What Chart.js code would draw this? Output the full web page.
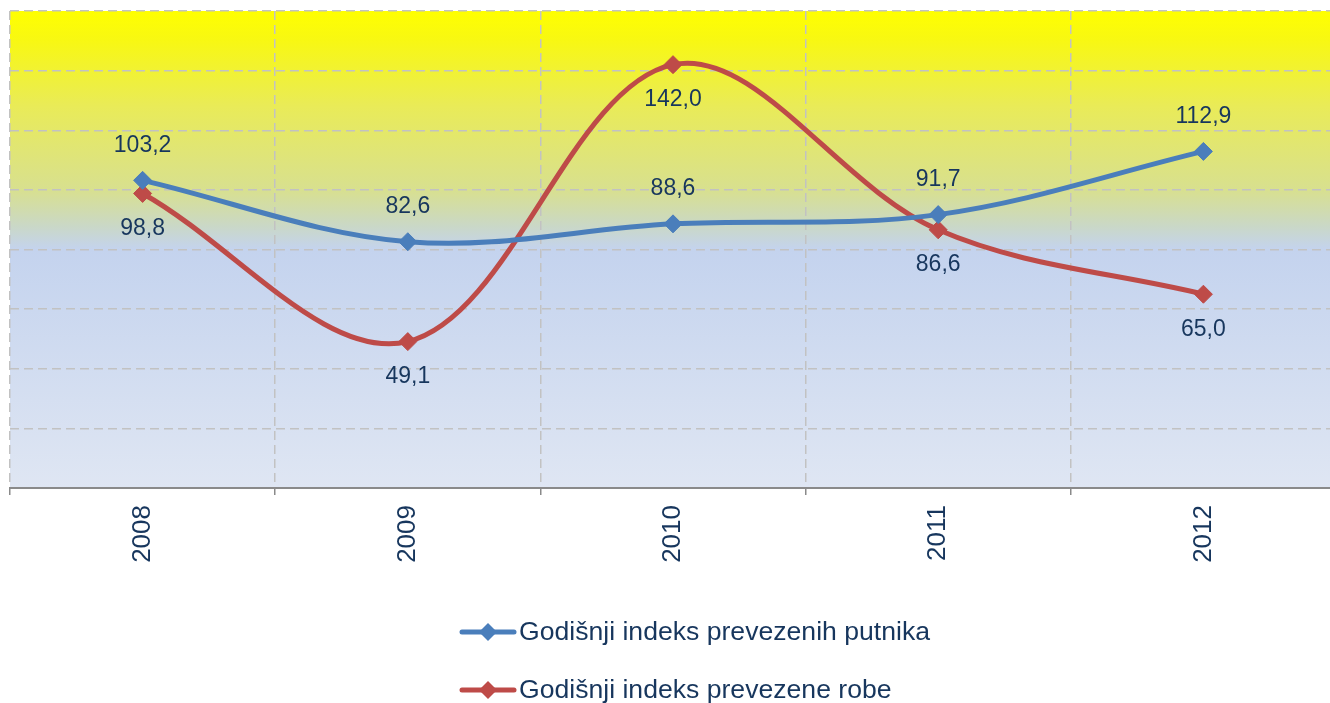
<!DOCTYPE html>
<html>
<head>
<meta charset="utf-8">
<script src="https://cdn.jsdelivr.net/npm/chart.js@4/dist/chart.umd.min.js"></script>
<style>
  html, body { margin: 0; padding: 0; overflow: hidden; background: #fff; }
  #wrap { position: absolute; left: 0; top: 0; width: 1346px; height: 720px; }
</style>
</head>
<body>
<div id="wrap"><canvas id="chart"></canvas></div>
<script>
// podaci očitani s grafikona
const godine = ['2008', '2009', '2010', '2011', '2012'];
const indeksPutnika = [103.2, 82.6, 88.6, 91.7, 112.9];
const indeksRobe = [98.8, 49.1, 142.0, 86.6, 65.0];
const nazivi = ['Godišnji indeks prevezenih putnika', 'Godišnji indeks prevezene robe'];

const TEXT = '#17365d';
const FONT = '"Liberation Sans", Arial, sans-serif';

// gradijent pozadine područja grafikona
const bgPlugin = {
  id: 'bg',
  beforeDraw(chart) {
    const { ctx, chartArea: a } = chart;
    const g = ctx.createLinearGradient(0, a.top, 0, a.bottom);
    g.addColorStop(0, '#ffff00');
    g.addColorStop(0.06, '#f8f812');
    g.addColorStop(0.2, '#e9eb58');
    g.addColorStop(0.375, '#d8e08f');
    g.addColorStop(0.45, '#cad8c6');
    g.addColorStop(0.5, '#c4d3ee');
    g.addColorStop(1, '#dfe6f3');
    ctx.save();
    ctx.fillStyle = g;
    ctx.fillRect(a.left, a.top, a.right - a.left, a.bottom - a.top);
    ctx.restore();
  }
};

// oznake vrijednosti (decimalni zarez)
const labelPlugin = {
  id: 'vrijednosti',
  afterDatasetsDraw(chart) {
    const ctx = chart.ctx;
    ctx.save();
    ctx.font = '23px ' + FONT;
    ctx.fillStyle = TEXT;
    ctx.textAlign = 'center';
    ctx.textBaseline = 'middle';
    chart.data.datasets.forEach((ds, i) => {
      const meta = chart.getDatasetMeta(i);
      meta.data.forEach((pt, j) => {
        const dy = ds.labelSide === 'above' ? -35 : 35;
        ctx.fillText(ds.data[j].toFixed(1).replace('.', ','), pt.x, pt.y + dy);
      });
    });
    ctx.restore();
  }
};

// legenda jedna ispod druge
const legendPlugin = {
  id: 'legenda',
  afterDraw(chart) {
    const ctx = chart.ctx;
    const rows = [632, 690];
    ctx.save();
    chart.data.datasets.forEach((ds, i) => {
      const y = rows[i];
      ctx.strokeStyle = ds.borderColor;
      ctx.lineWidth = 5;
      ctx.lineCap = 'round';
      ctx.beginPath();
      ctx.moveTo(462, y);
      ctx.lineTo(514, y);
      ctx.stroke();
      ctx.fillStyle = ds.borderColor;
      ctx.beginPath();
      ctx.moveTo(488 - 9, y);
      ctx.lineTo(488, y - 9);
      ctx.lineTo(488 + 9, y);
      ctx.lineTo(488, y + 9);
      ctx.closePath();
      ctx.fill();
      ctx.font = '26.6px ' + FONT;
      ctx.fillStyle = TEXT;
      ctx.textAlign = 'left';
      ctx.textBaseline = 'middle';
      ctx.fillText(ds.label, 519, y + 1);
    });
    ctx.restore();
  }
};

new Chart(document.getElementById('chart'), {
  type: 'line',
  data: {
    labels: godine,
    datasets: [
      {
        label: nazivi[0],
        data: indeksPutnika,
        borderColor: '#4a7ebb',
        backgroundColor: '#4a7ebb',
        borderWidth: 5,
        pointStyle: 'rectRot',
        pointRadius: 9,
        pointBorderWidth: 1,
        tension: 0.35,
        labelSide: 'above'
      },
      {
        label: nazivi[1],
        data: indeksRobe,
        borderColor: '#be4b48',
        backgroundColor: '#be4b48',
        borderWidth: 5,
        pointStyle: 'rectRot',
        pointRadius: 9,
        pointBorderWidth: 1,
        tension: 0.35,
        labelSide: 'below'
      }
    ]
  },
  options: {
    responsive: true,
    maintainAspectRatio: false,
    animation: false,
    layout: { padding: { left: 10, top: 11, right: 6, bottom: 0 } },
    plugins: {
      legend: { display: false },
      tooltip: { enabled: false }
    },
    scales: {
      x: {
        offset: true,
        grid: { offset: true, color: '#c2c2c2', lineWidth: 1.5, tickLength: 7, tickColor: '#8a8a8a', tickWidth: 1.5 },
        border: { display: true, color: '#8a8a8a', width: 2, dash: [9, 5] },
        ticks: { color: TEXT, font: { family: FONT, size: 26 }, maxRotation: 90, minRotation: 90, padding: 10, autoSkip: false },
        afterFit(s) { s.height = 232; }
      },
      y: {
        min: 0,
        max: 160,
        ticks: { stepSize: 20, display: false },
        grid: { color: '#c2c2c2', lineWidth: 1.5, drawTicks: false },
        border: { display: false, dash: [9, 5] },
        afterFit(s) { s.width = 0; }
      }
    }
  },
  plugins: [bgPlugin, labelPlugin, legendPlugin]
});
</script>
</body>
</html>
